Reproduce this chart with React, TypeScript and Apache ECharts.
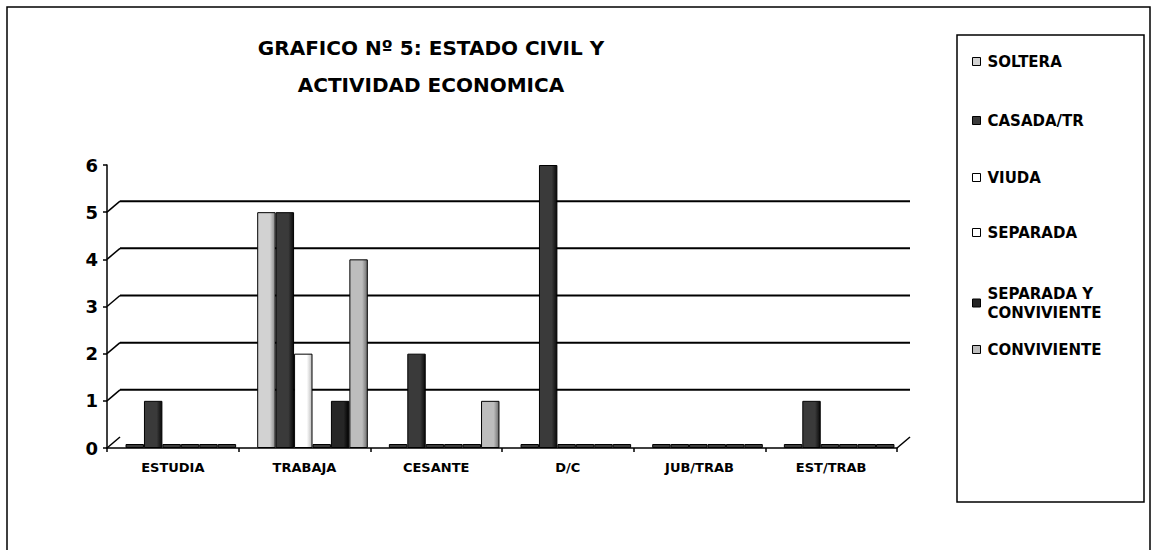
import React, { useEffect, useRef } from "react";
import * as echarts from "echarts";

const categories = ["ESTUDIA", "TRABAJA", "CESANTE", "D/C", "JUB/TRAB", "EST/TRAB"];
const seriesNames = ["SOLTERA", "CASADA/TR", "VIUDA", "SEPARADA", "SEPARADA Y\nCONVIVIENTE", "CONVIVIENTE"];
const soltera = [0, 5, 0, 0, 0, 0];
const casada = [1, 5, 2, 6, 0, 1];
const viuda = [0, 2, 0, 0, 0, 0];
const separada = [0, 0, 0, 0, 0, 0];
const sepConv = [0, 1, 0, 0, 0, 0];
const conviviente = [0, 4, 1, 0, 0, 0];
const yTicks = [0, 1, 2, 3, 4, 5, 6];
const titleText = "GRAFICO Nº 5: ESTADO CIVIL Y\nACTIVIDAD ECONOMICA";

const seriesValues = [soltera, casada, viuda, separada, sepConv, conviviente];
const baseColors = ["#d2d2d2", "#3a3a3a", "#ffffff", "#ffffff", "#262626", "#bdbdbd"];
const sideColors = ["#8a8a8a", "#0a0a0a", "#bbbbbb", "#bbbbbb", "#000000", "#6e6e6e"];
const legendTops = [47, 106, 163, 218, 279, 335];

const FONT = "'DejaVu Sans', Verdana, sans-serif";

export default function App() {
  const ref = useRef<HTMLDivElement>(null);
  useEffect(() => {
    if (!ref.current) return;
    const chart = echarts.init(ref.current, undefined, { renderer: "svg" });
    const DX = 13;
    const DY = -11;
    const barSeries = seriesValues.map((vals, i) => ({
      name: seriesNames[i],
      type: "bar",
      xAxisIndex: 1,
      yAxisIndex: 1,
      data: vals.map((v) =>
        v === 0
          ? { value: v, itemStyle: { color: "#3c3c3c", borderColor: "#000" } }
          : v
      ),
      barGap: "0%",
      barCategoryGap: "16%",
      barMinHeight: 4,
      z: 3,
      itemStyle: {
        color: new echarts.graphic.LinearGradient(0, 0, 1, 0, [
          { offset: 0, color: baseColors[i] },
          { offset: 0.7, color: baseColors[i] },
          { offset: 1, color: sideColors[i] },
        ]),
        borderColor: "#000",
        borderWidth: 1,
      },
    }));
    const option: any = {
      animation: false,
      backgroundColor: "#fff",
      title: {
        text: titleText,
        left: 426,
        top: 24,
        textAlign: "center",
        textStyle: {
          fontFamily: FONT,
          fontWeight: "bold",
          fontSize: 20,
          lineHeight: 37,
          color: "#000",
        },
      },
      legend: seriesNames.map((n, i) => ({
        data: [
          {
            name: n,
            itemStyle: { color: baseColors[i], borderColor: "#000", borderWidth: 1 },
          },
        ],
        left: 967,
        top: legendTops[i],
        orient: "vertical",
        icon: "rect",
        itemWidth: 8,
        itemHeight: 8,
        itemGap: 5,
        selectedMode: false,
        textStyle: {
          fontFamily: FONT,
          fontWeight: "bold",
          fontSize: 15,
          lineHeight: 19,
          color: "#000",
          padding: [0, 0, 0, 2],
        },
      })),
      grid: [
        { left: 107, right: 256, top: 165, bottom: 102 },
        { left: 115, right: 248, top: 165, bottom: 102 },
      ],
      xAxis: [
        {
          type: "category",
          gridIndex: 0,
          data: categories,
          boundaryGap: true,
          axisLine: { show: true, lineStyle: { color: "#000", width: 1.5 } },
          axisTick: { show: true, length: 4, lineStyle: { color: "#000", width: 1.5 } },
          axisLabel: {
            fontFamily: FONT,
            fontWeight: "bold",
            fontSize: 13,
            color: "#000",
            margin: 13,
          },
        },
        {
          type: "category",
          gridIndex: 1,
          data: categories,
          show: false,
        },
      ],
      yAxis: [
        {
          type: "value",
          gridIndex: 0,
          min: 0,
          max: 6,
          interval: 1,
          axisLine: { show: true, lineStyle: { color: "#000", width: 1.5 } },
          axisTick: { show: true, length: 4, lineStyle: { color: "#000", width: 1.5 } },
          splitLine: { show: false },
          axisLabel: {
            fontFamily: FONT,
            fontWeight: "bold",
            fontSize: 18,
            color: "#000",
            margin: 9,
          },
        },
        { type: "value", gridIndex: 1, min: 0, max: 6, interval: 1, show: false },
      ],
      series: [
        {
          type: "custom",
          xAxisIndex: 0,
          yAxisIndex: 0,
          z: 1,
          silent: true,
          data: yTicks.map((v) => [0, v]),
          encode: { x: 0, y: 1 },
          renderItem: (params: any, api: any) => {
            const v = api.value(1);
            const cs = params.coordSys;
            const y = api.coord([0, v])[1];
            const x0 = cs.x;
            const children: any[] = [];
            const ls = { stroke: "#000", lineWidth: 1.5 };
            if (v < 6) {
              children.push({
                type: "line",
                shape: { x1: x0, y1: y, x2: x0 + DX, y2: y + DY },
                style: ls,
              });
            }
            if (v > 0 && v < 6) {
              children.push({
                type: "line",
                shape: { x1: x0 + DX, y1: y + DY, x2: x0 + cs.width + DX, y2: y + DY },
                style: { stroke: "#000", lineWidth: 2 },
              });
            }
            if (v === 0) {
              children.push({
                type: "line",
                shape: { x1: x0 + cs.width, y1: y, x2: x0 + cs.width + DX, y2: y + DY },
                style: ls,
              });
            }
            return { type: "group", children };
          },
        },
        ...barSeries,
      ],
      graphic: [
        {
          type: "rect",
          shape: { x: 7, y: 7, width: 1143, height: 600 },
          style: { fill: "none", stroke: "#000", lineWidth: 1.5 },
          silent: true,
          z: -1,
        },
        {
          type: "rect",
          shape: { x: 957, y: 35, width: 187, height: 467 },
          style: { fill: "none", stroke: "#000", lineWidth: 1.5 },
          silent: true,
        },
      ],
    };
    chart.setOption(option);
    return () => chart.dispose();
  }, []);
  return (
    <div
      ref={ref}
      style={{ position: "fixed", left: 0, top: 0, width: 1153, height: 550 }}
    />
  );
}
